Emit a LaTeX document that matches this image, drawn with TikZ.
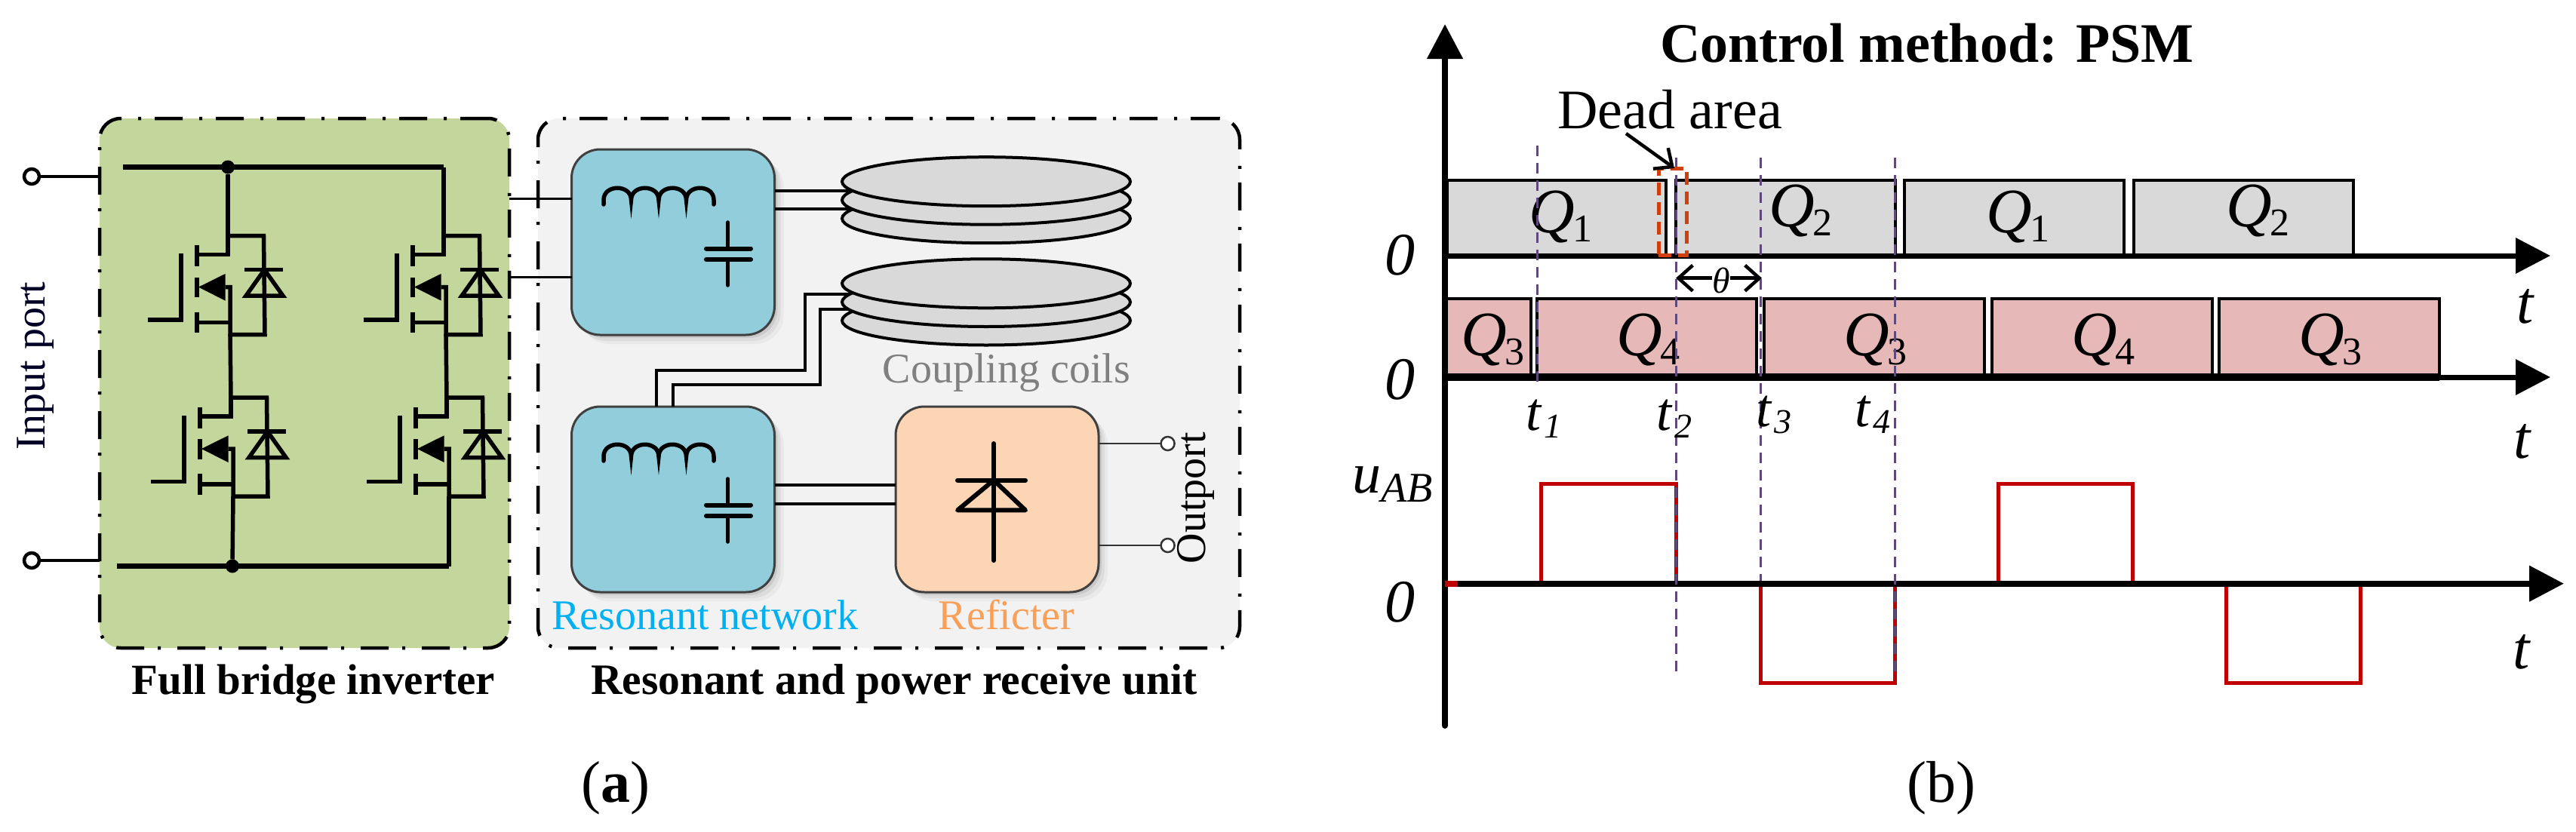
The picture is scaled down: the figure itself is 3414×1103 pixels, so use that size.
\documentclass[tikz,border=0pt]{standalone}
\usepackage{fontspec}
\setmainfont{Liberation Serif}
\usetikzlibrary{arrows.meta,shadows,shapes.geometric,calc}
\newcommand{\fsz}[1]{\fontsize{#1}{#1}\selectfont}
\newcommand{\qlbl}[1]{{\itshape Q}\kern-2pt\raisebox{-12pt}{\fsz{52}#1}}
\newcommand{\tlbl}[2]{{\itshape t\kern4pt\raisebox{-#2pt}{\fsz{46}#1}}}
\definecolor{greenbg}{HTML}{C3D69B}
\definecolor{graybg}{HTML}{F2F2F2}
\definecolor{bluebg}{HTML}{92CDDC}
\definecolor{peachbg}{HTML}{FCD5B5}
\definecolor{coilgray}{HTML}{D9D9D9}
\definecolor{pinkbg}{HTML}{E6B9B8}
\definecolor{wave}{HTML}{C00000}
\definecolor{dashc}{HTML}{5F497A}
\definecolor{deadc}{HTML}{D0400C}
\definecolor{resc}{HTML}{00B0F0}
\definecolor{recc}{HTML}{F8A05A}
\tikzset{
  x=1pt,y=-1pt,
  every node/.style={inner sep=0pt,outer sep=0pt},
  container/.style={draw=black,line width=4.5pt,rounded corners=28pt,
    dash pattern=on 37pt off 18pt on 4pt off 22pt,minimum width=#1},
  block/.style={draw=black!75,line width=3pt,rounded corners=38pt,
    drop shadow={opacity=.08,shadow xshift=12pt,shadow yshift=-12pt},
    drop shadow={opacity=.12,shadow xshift=8pt,shadow yshift=-8pt},
    drop shadow={opacity=.2,shadow xshift=4pt,shadow yshift=-4pt}},
  wire/.style={draw=black,line width=3.5pt},
  thin wire/.style={draw=black!80,line width=2.5pt},
  sym/.style={draw=black,line width=5.5pt},
  bus/.style={draw=black,line width=7pt},
  dot/.style={circle,fill=black,minimum size=18pt},
  term/.style={circle,draw=black,line width=4.5pt,fill=white,minimum size=20pt},
  oterm/.style={ellipse,draw=black!80,line width=2.5pt,fill=white,minimum width=18pt,minimum height=18pt},
  coil/.style={ellipse,draw=black,line width=4pt,fill=coilgray,minimum width=382pt,minimum height=65pt},
  lab/.style={font=\fsz{56}},
  blab/.style={font=\fsz{57}\bfseries},
  qbar/.style={draw=black,line width=4pt,fill=coilgray},
  pbar/.style={draw=black,line width=4pt,fill=pinkbg},
  qlab/.style={font=\fsz{84},anchor=base west},
  tlab/.style={font=\fsz{72},anchor=base west},
  axis/.style={draw=black,line width=7pt,-{Triangle[length=46pt,width=46pt]}},
  pulse/.style={draw=wave,line width=5pt,line join=miter},
  vdash/.style={draw=dashc,line width=3pt,dash pattern=on 14pt off 9pt},
  barb/.style={draw=black,line width=4.5pt,-{Straight Barb[length=19pt,width=34pt,line width=4.5pt]}},
  mosfet/.pic={
    \draw[sym] (0,0) -- (47.5,0) -- (49,131) -- (3,131) -- (3,68) -- (-3.5,68);
    \draw[sym] (0,0) -- (0,25) -- (-41,25);
    \draw[sym] (-41,12.5) -- (-41,40.6) (-41,55) -- (-41,81.7) (-41,101) -- (-41,128.6);
    \draw[sym] (-41,115) -- (3,115);
    \fill (-39,68) -- (-3.5,50.4) -- (-3.5,86) -- cycle;
    \draw[sym] (-105.6,111.6) -- (-62,111.6) -- (-62,23.7);
    \draw[sym] (22,45) -- (73,45);
    \draw[sym,line join=miter] (48.5,45) -- (24,79.5) -- (73,79.5) -- cycle;
  },
  tank/.pic={
    \draw[sym,line cap=round] (800,271) -- (800,265) .. controls (800,244) and (836.5,244) .. (836.5,265)
      .. controls (836.5,244) and (873,244) .. (873,265)
      .. controls (873,244) and (909.5,244) .. (909.5,265)
      .. controls (909.5,244) and (946,244) .. (946,265) -- (946,271);
    \draw[sym,line cap=round] (964.7,295) -- (964.7,329.5) (964.7,344) -- (964.7,378);
    \draw[sym,line width=6pt,line cap=round] (936,329.5) -- (995,329.5) (936,344) -- (995,344);
  },
}
\begin{document}
\begin{tikzpicture}
\useasboundingbox (0,0) rectangle (3414,1103);
% --- containers
\node[container=543pt,fill=greenbg,minimum height=702pt] (green) at (403.5,508) {};
\node[container=930pt,fill=graybg,minimum height=702pt] (gray) at (1178,508) {};
% --- input terminals
\node[term] (in1) at (42,234) {};
\node[term] (in2) at (42,743) {};
\draw[wire] (in1) -- (in1 -| green.west);
\draw[wire] (in2) -- (in2 -| green.west);
% --- bridge
\node[dot] (d1) at (302,221.5) {};
\node[dot] (d2) at (308,750.5) {};
\coordinate (bt1) at (163,221.5);
\coordinate (bt2) at (588,221.5);
\coordinate (bb1) at (155,750.5);
\coordinate (bb2) at (595,750.5);
\draw[bus] (bt1) -- (bt2);
\draw[bus] (bb1) -- (bb2);
\pic at (302,312.6) {mosfet};
\pic at (588,312.6) {mosfet};
\pic at (306,527) {mosfet};
\pic at (592,527) {mosfet};
\draw[sym] (d1) -- (302,312.6);
\draw[sym] (bt2) -- (588,312.6);
\draw[sym] (305,443) -- (306,527);
\draw[sym] (591,443) -- (592,527);
\draw[sym] (309,658) -- (d2);
\draw[sym] (595,658) -- (bb2);
% --- blocks
\node[block,fill=bluebg,minimum width=269pt,minimum height=246pt] (rn1) at (892,321) {};
\node[block,fill=bluebg,minimum width=269pt,minimum height=246pt] (rn2) at (892,662) {};
\node[block,fill=peachbg,minimum width=269pt,minimum height=246pt] (rect) at (1321.5,662) {};
\pic at (0,0) {tank};
\pic at (0,340) {tank};
% --- wires
\draw[wire] (green.east |- 0,263.5) -- (rn1.west |- 0,263.5);
\draw[wire] (green.east |- 0,367.5) -- (rn1.west |- 0,367.5);
\coordinate (ca1) at (1125,253);
\coordinate (ca2) at (1125,277);
\coordinate (cb1) at (1125,390);
\coordinate (cb2) at (1125,409.6);
\draw[wire] (rn1.east |- ca1) -- (ca1);
\draw[wire] (rn1.east |- ca2) -- (ca2);
\draw[wire,line width=4pt] (rn2.north -| 870.3,0) |- (1067,491) |- (cb1);
\draw[wire,line width=4pt] (rn2.north -| 892,0) |- (1087,510) |- (cb2);
\draw[wire] (rn2.east |- 0,643) -- (rect.west |- 0,643);
\draw[wire] (rn2.east |- 0,668) -- (rect.west |- 0,668);
% --- coils
\node[coil] (c3) at (1307,289.7) {};
\node[coil] (c2) at (1307,265.2) {};
\node[coil] (c1) at (1307,240.7) {};
\node[coil] (c6) at (1307,425) {};
\node[coil] (c5) at (1307,400.5) {};
\node[coil] (c4) at (1307,375.8) {};
% --- rectifier
\draw[sym,line width=6pt,line cap=round] (1317,588) -- (1317,743);
\draw[sym,line width=6pt,line cap=round] (1269,636.6) -- (1359,636.6);
\draw[sym,line width=6pt,line join=round] (1317,636.6) -- (1269,676.4) -- (1359,676.4) -- cycle;
% --- output
\node[oterm] (o1) at (1547.6,588) {};
\node[oterm] (o2) at (1547.6,723) {};
\draw[thin wire] (rect.east |- o1) -- (o1);
\draw[thin wire] (rect.east |- o2) -- (o2);
% --- text panel a
\node[lab,rotate=90,text=black!85!blue] (tin) at (47,485) {Input port};
\node[lab,rotate=90] (tout) at (1585,660) {Outport};
\node[lab,text=black!50] (tcc) at (1334,494) {Coupling coils};
\node[lab,text=resc,anchor=base] (trn) at (934.5,834) {Resonant network};
\node[lab,text=recc,anchor=base] (trc) at (1334,834) {Reficter};
\node[blab,anchor=base] (tfb) at (415.5,920) {Full bridge inverter};
\node[blab,font=\fsz{57.5}\bfseries,anchor=base] (trp) at (1185,920) {Resonant and power receive unit};
\node[font=\fsz{78}] (capa) at (816,1045) {(\textbf{a})};
\node[font=\fsz{78}] (capb) at (2573,1045) {(b)};
% ================= panel b
\node[font=\fsz{74}\bfseries,anchor=base west] (title) at (2200,82) {Control method: PSM};
\draw[qbar] (1918,239) rectangle (2208,339);
\draw[qbar] (2221,239) rectangle (2511.5,339);
\draw[qbar] (2524,239) rectangle (2815,339);
\draw[qbar] (2828,239) rectangle (3119,339);
\draw[pbar] (1917,396) rectangle (2029,499);
\draw[pbar] (2037,396) rectangle (2328,499);
\draw[pbar] (2338,396) rectangle (2630,499);
\draw[pbar] (2640,396) rectangle (2932,499);
\draw[pbar] (2941,396) rectangle (3233,499);
\node[qlab] (q1) at (2026,308) {\qlbl{1}};
\node[qlab] (q2) at (2344,300) {\qlbl{2}};
\node[qlab] (q3) at (2632,308) {\qlbl{1}};
\node[qlab] (q4) at (2950,300) {\qlbl{2}};
\node[qlab] (q5) at (1936,471) {\qlbl{3}};
\node[qlab] (q6) at (2142,471) {\qlbl{4}};
\node[qlab] (q7) at (2443,471) {\qlbl{3}};
\node[qlab] (q8) at (2745,471) {\qlbl{4}};
\node[qlab] (q9) at (3046,471) {\qlbl{3}};
% axes
\coordinate (yb) at (1915,962);
\coordinate (yt) at (1915,32);
\coordinate (a1s) at (1915,339);
\coordinate (a1e) at (3380,339);
\coordinate (a2s) at (1915,500);
\coordinate (a2m) at (3233,500);
\coordinate (a2e) at (3380,500);
\coordinate (a3s) at (1932,773.7);
\coordinate (a3e) at (3398,773.7);
\draw[axis,line width=8pt,line cap=round] (yb) -- (yt);
\draw[axis] (a1s) -- (a1e);
\draw[axis] (a2s) -- (a2e);
\draw[draw=black,line width=10pt] (a2s) -- (a2m);
% red waveform
\coordinate (rs) at (1915,773.7);
\draw[pulse,line width=8pt] (rs) -- (a3s);
\draw[pulse] (2042,774) -- (2042,641.7) -- (2221.5,641.7) -- (2221.5,774);
\draw[pulse] (2333,774) -- (2333,905) -- (2511.5,905) -- (2511.5,774);
\draw[pulse] (2648,774) -- (2648,641.7) -- (2826,641.7) -- (2826,774);
\draw[pulse] (2950,774) -- (2950,905) -- (3128,905) -- (3128,774);
\draw[axis,line width=8pt] (a3s) -- (a3e);
% dashed guides
\coordinate (t1a) at (2037,193); \coordinate (t1b) at (2037,512);
\coordinate (t2a) at (2221,209); \coordinate (t2b) at (2221,895);
\coordinate (t3a) at (2333,209); \coordinate (t3b) at (2333,770);
\coordinate (t4a) at (2511,209); \coordinate (t4b) at (2511,893);
\draw[vdash] (t1a) -- (t1b);
\draw[vdash] (t2a) -- (t2b);
\draw[vdash] (t3a) -- (t3b);
\draw[vdash] (t4a) -- (t4b);
% dead area
\node[draw=deadc,line width=5pt,dash pattern=on 17pt off 9pt,minimum width=37pt,minimum height=115pt] (deadbox) at (2216.5,280.5) {};
\node[font=\fsz{74},anchor=base west] (dead) at (2064,170) {Dead area};
\coordinate (dtail) at (2155,177);
\coordinate (dtip) at (2219,223);
\draw[barb] (dtail) -- (dtip);
% theta
\node[font=\fsz{48}\itshape] (theta) at (2281,372) {θ};
\coordinate (tha) at (2221,368.7);
\coordinate (thb) at (2335,368.7);
\draw[barb] (theta.west |- tha) -- (tha);
\draw[barb] (theta.east |- thb) -- (thb);
% labels
\node[tlab] (l1) at (2022,570) {\tlbl{\itshape 1}{10}};
\node[tlab] (l2) at (2195,570) {\tlbl{\itshape 2}{10}};
\node[tlab] (l3) at (2327,565) {\tlbl{\itshape 3}{9}};
\node[tlab] (l4) at (2458,565) {\tlbl{\itshape 4}{9}};
\node[font=\fsz{80}\itshape,anchor=base west] (z1) at (1835,364) {0};
\node[font=\fsz{80}\itshape,anchor=base west] (z2) at (1835,529) {0};
\node[font=\fsz{80}\itshape,anchor=base west] (z3) at (1835,824) {0};
\node[font=\fsz{80}\itshape,anchor=base west] (r1) at (3335,428) {t};
\node[font=\fsz{80}\itshape,anchor=base west] (r2) at (3331,607) {t};
\node[font=\fsz{80}\itshape,anchor=base west] (r3) at (3330,886) {t};
\node[font=\fsz{76}\itshape,anchor=base west] (uab) at (1792,653) {u\raisebox{-12pt}{\fsz{56}AB}};
\end{tikzpicture}
\end{document}
